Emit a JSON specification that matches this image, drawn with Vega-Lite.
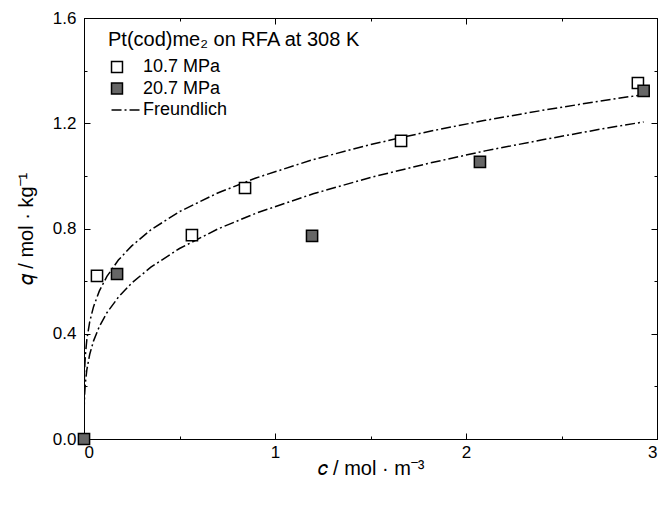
{
  "$schema": "https://vega.github.io/schema/vega-lite/v6.json",
  "width": 573,
  "height": 421,
  "autosize": {"type": "none"},
  "padding": {"left": 84, "top": 18, "right": 3, "bottom": 67},
  "background": "white",
  "config": {
    "font": "Liberation Sans",
    "view": {"stroke": "black", "strokeWidth": 1},
    "axis": {
      "grid": false,
      "domainColor": "black",
      "domainWidth": 1,
      "tickColor": "black",
      "tickWidth": 1,
      "labelColor": "black",
      "labelFontSize": 17,
      "titleColor": "black",
      "titleFontSize": 20,
      "titleFontWeight": "normal"
    },
    "legend": {
      "orient": "none",
      "legendX": 24,
      "legendY": 12,
      "titleFontSize": 20,
      "titleFontWeight": "normal",
      "titleColor": "black",
      "titleLimit": 400,
      "labelFontSize": 18,
      "labelColor": "black",
      "labelOffset": 17,
      "symbolStrokeColor": "black",
      "symbolStrokeWidth": 1.5,
      "symbolSize": 120,
      "rowPadding": 3.5,
      "titlePadding": 8,
      "padding": 0
    }
  },
  "data": {
    "values": [
      {"c": 0.068, "q": 0.62, "s": "10.7 MPa"},
      {"c": 0.565, "q": 0.775, "s": "10.7 MPa"},
      {"c": 0.843, "q": 0.954, "s": "10.7 MPa"},
      {"c": 1.66, "q": 1.133, "s": "10.7 MPa"},
      {"c": 2.9, "q": 1.353, "s": "10.7 MPa"},
      {"c": 0.0, "q": 0.0, "s": "20.7 MPa"},
      {"c": 0.173, "q": 0.627, "s": "20.7 MPa"},
      {"c": 1.194, "q": 0.772, "s": "20.7 MPa"},
      {"c": 2.073, "q": 1.053, "s": "20.7 MPa"},
      {"c": 2.93, "q": 1.323, "s": "20.7 MPa"},
      {"c": 0.00001, "q": 0.068, "s": "Freundlich", "k": "a"},
      {"c": 0.0001, "q": 0.117, "s": "Freundlich", "k": "a"},
      {"c": 0.001, "q": 0.201, "s": "Freundlich", "k": "a"},
      {"c": 0.003, "q": 0.26, "s": "Freundlich", "k": "a"},
      {"c": 0.007, "q": 0.317, "s": "Freundlich", "k": "a"},
      {"c": 0.015, "q": 0.379, "s": "Freundlich", "k": "a"},
      {"c": 0.03, "q": 0.446, "s": "Freundlich", "k": "a"},
      {"c": 0.05, "q": 0.503, "s": "Freundlich", "k": "a"},
      {"c": 0.08, "q": 0.562, "s": "Freundlich", "k": "a"},
      {"c": 0.12, "q": 0.618, "s": "Freundlich", "k": "a"},
      {"c": 0.18, "q": 0.68, "s": "Freundlich", "k": "a"},
      {"c": 0.25, "q": 0.734, "s": "Freundlich", "k": "a"},
      {"c": 0.35, "q": 0.795, "s": "Freundlich", "k": "a"},
      {"c": 0.5, "q": 0.864, "s": "Freundlich", "k": "a"},
      {"c": 0.7, "q": 0.935, "s": "Freundlich", "k": "a"},
      {"c": 0.9, "q": 0.992, "s": "Freundlich", "k": "a"},
      {"c": 1.2, "q": 1.062, "s": "Freundlich", "k": "a"},
      {"c": 1.5, "q": 1.119, "s": "Freundlich", "k": "a"},
      {"c": 1.8, "q": 1.168, "s": "Freundlich", "k": "a"},
      {"c": 2.1, "q": 1.211, "s": "Freundlich", "k": "a"},
      {"c": 2.4, "q": 1.249, "s": "Freundlich", "k": "a"},
      {"c": 2.7, "q": 1.284, "s": "Freundlich", "k": "a"},
      {"c": 2.93, "q": 1.309, "s": "Freundlich", "k": "a"},
      {"c": 0.00001, "q": 0.032, "s": "Freundlich", "k": "b"},
      {"c": 0.0001, "q": 0.062, "s": "Freundlich", "k": "b"},
      {"c": 0.001, "q": 0.121, "s": "Freundlich", "k": "b"},
      {"c": 0.003, "q": 0.166, "s": "Freundlich", "k": "b"},
      {"c": 0.007, "q": 0.212, "s": "Freundlich", "k": "b"},
      {"c": 0.015, "q": 0.264, "s": "Freundlich", "k": "b"},
      {"c": 0.03, "q": 0.322, "s": "Freundlich", "k": "b"},
      {"c": 0.05, "q": 0.373, "s": "Freundlich", "k": "b"},
      {"c": 0.08, "q": 0.427, "s": "Freundlich", "k": "b"},
      {"c": 0.12, "q": 0.48, "s": "Freundlich", "k": "b"},
      {"c": 0.18, "q": 0.539, "s": "Freundlich", "k": "b"},
      {"c": 0.25, "q": 0.593, "s": "Freundlich", "k": "b"},
      {"c": 0.35, "q": 0.653, "s": "Freundlich", "k": "b"},
      {"c": 0.5, "q": 0.724, "s": "Freundlich", "k": "b"},
      {"c": 0.7, "q": 0.798, "s": "Freundlich", "k": "b"},
      {"c": 0.9, "q": 0.858, "s": "Freundlich", "k": "b"},
      {"c": 1.2, "q": 0.932, "s": "Freundlich", "k": "b"},
      {"c": 1.5, "q": 0.994, "s": "Freundlich", "k": "b"},
      {"c": 1.8, "q": 1.047, "s": "Freundlich", "k": "b"},
      {"c": 2.1, "q": 1.095, "s": "Freundlich", "k": "b"},
      {"c": 2.4, "q": 1.137, "s": "Freundlich", "k": "b"},
      {"c": 2.7, "q": 1.177, "s": "Freundlich", "k": "b"},
      {"c": 2.93, "q": 1.205, "s": "Freundlich", "k": "b"}
    ]
  },
  "resolve": {"axis": {"x": "independent", "y": "independent"}},
  "layer": [
    {
      "transform": [{"filter": "datum.s === 'Freundlich'"}],
      "mark": {"type": "line", "strokeWidth": 1.5, "clip": true},
      "encoding": {
        "x": {
          "field": "c", "type": "quantitative",
          "scale": {"domain": [0, 3], "nice": false, "zero": false},
          "axis": {
            "orient": "top", "title": null, "labels": false,
            "values": [0, 0.5, 1, 1.5, 2, 2.5, 3],
            "tickSize": {"condition": {"test": "datum.value % 1 === 0", "value": -6}, "value": -3}
          }
        },
        "y": {
          "field": "q", "type": "quantitative",
          "scale": {"domain": [0, 1.6], "nice": false, "zero": false},
          "axis": {
            "orient": "right", "title": null, "labels": false,
            "values": [0, 0.2, 0.4, 0.6, 0.8, 1.0, 1.2, 1.4, 1.6],
            "tickSize": {"condition": {"test": "round(datum.value * 10) % 4 === 0", "value": -6}, "value": -3}
          }
        },
        "detail": {"field": "k"},
        "stroke": {
          "field": "s", "type": "nominal",
          "scale": {"domain": ["10.7 MPa", "20.7 MPa", "Freundlich"], "range": ["black", "black", "black"]},
          "legend": {"title": "Pt(cod)me₂ on RFA at 308 K"}
        },
        "strokeDash": {
          "field": "s", "type": "nominal",
          "scale": {"domain": ["10.7 MPa", "20.7 MPa", "Freundlich"], "range": [[1, 0], [1, 0], [10, 3, 2, 3]]},
          "legend": {"title": "Pt(cod)me₂ on RFA at 308 K"}
        }
      }
    },
    {
      "transform": [{"filter": "datum.s !== 'Freundlich'"}],
      "mark": {"type": "point", "strokeWidth": 1.5, "size": 125, "opacity": 1, "filled": false},
      "encoding": {
        "x": {
          "field": "c", "type": "quantitative",
          "scale": {"domain": [0, 3], "nice": false, "zero": false},
          "axis": {
            "orient": "bottom",
            "title": "𝑐 / mol · m⁻³",
            "values": [0, 0.5, 1, 1.5, 2, 2.5, 3],
            "labelExpr": "datum.value % 1 === 0 ? format(datum.value, 'd') : ''",
            "tickSize": {"condition": {"test": "datum.value % 1 === 0", "value": -6}, "value": -3},
            "labelPadding": 11,
            "titlePadding": -2
          }
        },
        "y": {
          "field": "q", "type": "quantitative",
          "scale": {"domain": [0, 1.6], "nice": false, "zero": false},
          "axis": {
            "orient": "left",
            "title": "𝑞 / mol · kg⁻¹",
            "values": [0, 0.2, 0.4, 0.6, 0.8, 1.0, 1.2, 1.4, 1.6],
            "labelExpr": "round(datum.value * 10) % 4 === 0 ? format(datum.value, '.1f') : ''",
            "tickSize": {"condition": {"test": "round(datum.value * 10) % 4 === 0", "value": -6}, "value": -3},
            "labelPadding": 14,
            "titlePadding": 16
          }
        },
        "shape": {
          "field": "s", "type": "nominal",
          "scale": {"domain": ["10.7 MPa", "20.7 MPa", "Freundlich"], "range": ["square", "square", "M-1,0H4.3"]},
          "legend": {"title": "Pt(cod)me₂ on RFA at 308 K"}
        },
        "fill": {
          "field": "s", "type": "nominal",
          "scale": {"domain": ["10.7 MPa", "20.7 MPa", "Freundlich"], "range": ["white", "#666666", "transparent"]},
          "legend": {"title": "Pt(cod)me₂ on RFA at 308 K"}
        },
        "stroke": {
          "field": "s", "type": "nominal",
          "scale": {"domain": ["10.7 MPa", "20.7 MPa", "Freundlich"], "range": ["black", "black", "black"]},
          "legend": {"title": "Pt(cod)me₂ on RFA at 308 K"}
        },
        "strokeDash": {
          "field": "s", "type": "nominal",
          "scale": {"domain": ["10.7 MPa", "20.7 MPa", "Freundlich"], "range": [[1, 0], [1, 0], [10, 3, 2, 3]]},
          "legend": {"title": "Pt(cod)me₂ on RFA at 308 K"}
        }
      }
    }
  ]
}
